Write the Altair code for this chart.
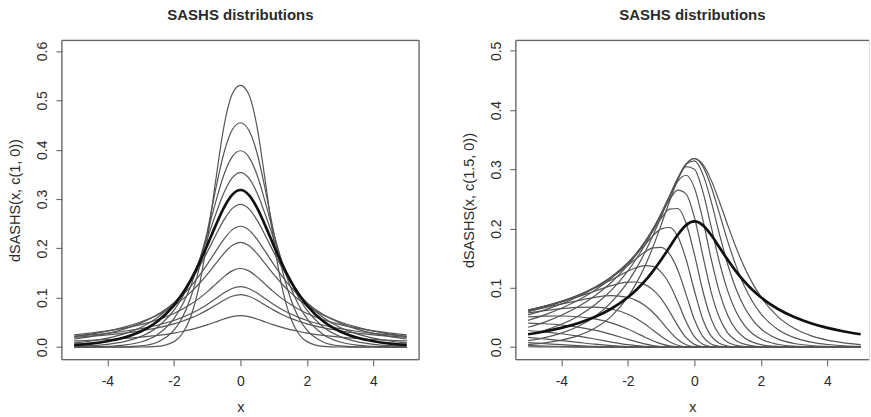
import altair as alt
import pandas as pd

# ---------------- data ----------------
XS = [-5, -4.5, -4, -3.5, -3, -2.5, -2, -1.75, -1.5, -1.25, -1, -0.75, -0.5, -0.25, 0,
      0.25, 0.5, 0.75, 1, 1.25, 1.5, 1.75, 2, 2.5, 3, 3.5, 4, 4.5, 5]

# left panel: family of symmetric curves, thick one = c(1, 0)
L_D06 = [0, 0, 0, 0, 0.0001, 0.0013, 0.0110, 0.0270, 0.0604, 0.1213, 0.2157, 0.3348, 0.4460, 0.5122, 0.5305,
         0.5122, 0.4460, 0.3348, 0.2157, 0.1213, 0.0604, 0.0270, 0.0110, 0.0013, 0.0001, 0, 0, 0, 0]
L_D07 = [0, 0, 0.0001, 0.0005, 0.0024, 0.0099, 0.0341, 0.0595, 0.0995, 0.1575, 0.2332, 0.3180, 0.3928, 0.4400, 0.4547,
         0.4400, 0.3928, 0.3180, 0.2332, 0.1575, 0.0995, 0.0595, 0.0341, 0.0099, 0.0024, 0.0005, 0.0001, 0, 0]
L_D08 = [0.0002, 0.0006, 0.0015, 0.0040, 0.0102, 0.0251, 0.0576, 0.0852, 0.1229, 0.1721, 0.2306, 0.2928, 0.3487, 0.3854, 0.3979,
         0.3854, 0.3487, 0.2928, 0.2306, 0.1721, 0.1229, 0.0852, 0.0576, 0.0251, 0.0102, 0.0040, 0.0015, 0.0006, 0.0002]
L_D09 = [0.0014, 0.0028, 0.0056, 0.0110, 0.0212, 0.0403, 0.0747, 0.1004, 0.1333, 0.1731, 0.2197, 0.2681, 0.3121, 0.3428, 0.3537,
         0.3428, 0.3121, 0.2681, 0.2197, 0.1731, 0.1333, 0.1004, 0.0747, 0.0403, 0.0212, 0.0110, 0.0056, 0.0028, 0.0014]
L_D10 = [0.0043, 0.0071, 0.0117, 0.0193, 0.0317, 0.0519, 0.0846, 0.1075, 0.1352, 0.1684, 0.2060, 0.2457, 0.2822, 0.3086, 0.3183,
         0.3086, 0.2822, 0.2457, 0.2060, 0.1684, 0.1352, 0.1075, 0.0846, 0.0519, 0.0317, 0.0193, 0.0117, 0.0071, 0.0043]
L_D11 = [0.0084, 0.0123, 0.0181, 0.0267, 0.0398, 0.0595, 0.0893, 0.1090, 0.1328, 0.1607, 0.1924, 0.2258, 0.2572, 0.2806, 0.2894,
         0.2806, 0.2572, 0.2258, 0.1924, 0.1607, 0.1328, 0.1090, 0.0893, 0.0595, 0.0398, 0.0267, 0.0181, 0.0123, 0.0084]
L_D13 = [0.0164, 0.0212, 0.0277, 0.0365, 0.0486, 0.0655, 0.0892, 0.1045, 0.1225, 0.1437, 0.1675, 0.1933, 0.2183, 0.2375, 0.2449,
         0.2375, 0.2183, 0.1933, 0.1675, 0.1437, 0.1225, 0.1045, 0.0892, 0.0655, 0.0486, 0.0365, 0.0277, 0.0212, 0.0164]
L_D15 = [0.0216, 0.0263, 0.0324, 0.0403, 0.0507, 0.0647, 0.0840, 0.0963, 0.1108, 0.1278, 0.1473, 0.1685, 0.1895, 0.2059, 0.2122,
         0.2059, 0.1895, 0.1685, 0.1473, 0.1278, 0.1108, 0.0963, 0.0840, 0.0647, 0.0507, 0.0403, 0.0324, 0.0263, 0.0216]
L_D20 = [0.0246, 0.0282, 0.0327, 0.0383, 0.0456, 0.0552, 0.0682, 0.0766, 0.0866, 0.0982, 0.1118, 0.1270, 0.1423, 0.1544, 0.1592,
         0.1544, 0.1423, 0.1270, 0.1118, 0.0982, 0.0866, 0.0766, 0.0682, 0.0552, 0.0456, 0.0383, 0.0327, 0.0282, 0.0246]
L_D26 = [0.0219, 0.0246, 0.0279, 0.0320, 0.0373, 0.0443, 0.0539, 0.0601, 0.0674, 0.0761, 0.0864, 0.0979, 0.1095, 0.1188, 0.1224,
         0.1188, 0.1095, 0.0979, 0.0864, 0.0761, 0.0674, 0.0601, 0.0539, 0.0443, 0.0373, 0.0320, 0.0279, 0.0246, 0.0219]
L_D30 = [0.0197, 0.0220, 0.0248, 0.0283, 0.0329, 0.0388, 0.0470, 0.0523, 0.0586, 0.0661, 0.0749, 0.0848, 0.0949, 0.1029, 0.1061,
         0.1029, 0.0949, 0.0848, 0.0749, 0.0661, 0.0586, 0.0523, 0.0470, 0.0388, 0.0329, 0.0283, 0.0248, 0.0220, 0.0197]
L_D50 = [0.0124, 0.0137, 0.0154, 0.0174, 0.0201, 0.0236, 0.0284, 0.0316, 0.0353, 0.0398, 0.0450, 0.0509, 0.0569, 0.0618, 0.0637,
         0.0618, 0.0569, 0.0509, 0.0450, 0.0398, 0.0353, 0.0316, 0.0284, 0.0236, 0.0201, 0.0174, 0.0154, 0.0137, 0.0124]

# right panel: thick curve c(1.5, 0) and family of skewed curves
R_THICK = [0.0216, 0.0263, 0.0324, 0.0403, 0.0507, 0.0647, 0.0840, 0.0963, 0.1108, 0.1278, 0.1473, 0.1685, 0.1895, 0.2059, 0.2122,
           0.2059, 0.1895, 0.1685, 0.1473, 0.1278, 0.1108, 0.0963, 0.0840, 0.0647, 0.0507, 0.0403, 0.0324, 0.0263, 0.0216]
R_E00 = [0.0043, 0.0071, 0.0117, 0.0193, 0.0317, 0.0519, 0.0846, 0.1075, 0.1352, 0.1684, 0.2060, 0.2457, 0.2822, 0.3086, 0.3183,
         0.3086, 0.2822, 0.2457, 0.2060, 0.1684, 0.1352, 0.1075, 0.0846, 0.0519, 0.0317, 0.0193, 0.0117, 0.0071, 0.0043]
R_E01 = [0.0109, 0.0160, 0.0236, 0.0348, 0.0513, 0.0755, 0.1102, 0.1325, 0.1584, 0.1878, 0.2199, 0.2531, 0.2846, 0.3088, 0.3181,
         0.3054, 0.2715, 0.2260, 0.1789, 0.1375, 0.1030, 0.0764, 0.0561, 0.0300, 0.0159, 0.0084, 0.0044, 0.0023, 0.0012]
R_E02 = [0.0210, 0.0284, 0.0385, 0.0522, 0.0709, 0.0956, 0.1285, 0.1486, 0.1711, 0.1964, 0.2245, 0.2546, 0.2847, 0.3085, 0.3143,
         0.2923, 0.2467, 0.1911, 0.1398, 0.0985, 0.0678, 0.0461, 0.0310, 0.0139, 0.0061, 0.0026, 0.0012, 0.0005, 0.0002]
R_E03 = [0.0334, 0.0422, 0.0537, 0.0679, 0.0862, 0.1091, 0.1383, 0.1558, 0.1758, 0.1987, 0.2251, 0.2547, 0.2843, 0.3044, 0.3002,
         0.2631, 0.2044, 0.1438, 0.0948, 0.0601, 0.0370, 0.0224, 0.0135, 0.0048, 0.0016, 0.0006, 0.0002, 0.0001, 0]
R_E04 = [0.0452, 0.0544, 0.0656, 0.0791, 0.0955, 0.1159, 0.1418, 0.1578, 0.1766, 0.1989, 0.2250, 0.2539, 0.2798, 0.2900, 0.2687,
         0.2159, 0.1497, 0.0933, 0.0539, 0.0295, 0.0159, 0.0083, 0.0042, 0.0011, 0.0003, 0.0001, 0, 0, 0]
R_E05 = [0.0544, 0.0629, 0.0730, 0.0850, 0.0996, 0.1180, 0.1424, 0.1579, 0.1766, 0.1987, 0.2237, 0.2486, 0.2648, 0.2582, 0.2189,
         0.1554, 0.0937, 0.0498, 0.0241, 0.0112, 0.0049, 0.0021, 0.0009, 0.0002, 0, 0, 0, 0, 0]
R_E06 = [0.0597, 0.0673, 0.0763, 0.0871, 0.1006, 0.1182, 0.1424, 0.1578, 0.1759, 0.1962, 0.2170, 0.2327, 0.2339, 0.2089, 0.1564,
         0.0955, 0.0481, 0.0208, 0.0081, 0.0029, 0.0010, 0.0003, 0.0001, 0, 0, 0, 0, 0, 0]
R_E07 = [0.0619, 0.0688, 0.0771, 0.0875, 0.1007, 0.1182, 0.1418, 0.1561, 0.1717, 0.1874, 0.1994, 0.2018, 0.1865, 0.1480, 0.0951,
         0.0475, 0.0189, 0.0063, 0.0018, 0.0005, 0.0001, 0, 0, 0, 0, 0, 0, 0, 0]
R_E08 = [0.0624, 0.0690, 0.0772, 0.0874, 0.1006, 0.1173, 0.1381, 0.1493, 0.1599, 0.1674, 0.1683, 0.1573, 0.1301, 0.0889, 0.0465,
         0.0182, 0.0052, 0.0012, 0.0002, 0, 0, 0, 0, 0, 0, 0, 0, 0, 0]
R_E09 = [0.0624, 0.0690, 0.0771, 0.0871, 0.0992, 0.1133, 0.1281, 0.1341, 0.1374, 0.1361, 0.1264, 0.1065, 0.0764, 0.0431, 0.0175,
         0.0048, 0.0010, 0.0001, 0, 0, 0, 0, 0, 0, 0, 0, 0, 0, 0]
R_E10 = [0.0623, 0.0687, 0.0761, 0.0849, 0.0943, 0.1036, 0.1096, 0.1098, 0.1058, 0.0969, 0.0817, 0.0603, 0.0362, 0.0158, 0.0046,
         0.0008, 0.0001, 0, 0, 0, 0, 0, 0, 0, 0, 0, 0, 0, 0]
R_E11 = [0.0613, 0.0667, 0.0726, 0.0785, 0.0838, 0.0867, 0.0838, 0.0788, 0.0705, 0.0587, 0.0435, 0.0268, 0.0127, 0.0040, 0.0007,
         0.0001, 0, 0, 0, 0, 0, 0, 0, 0, 0, 0, 0, 0, 0]
R_E12 = [0.0578, 0.0615, 0.0648, 0.0671, 0.0675, 0.0643, 0.0554, 0.0482, 0.0392, 0.0287, 0.0181, 0.0090, 0.0031, 0.0006, 0.0001,
         0, 0, 0, 0, 0, 0, 0, 0, 0, 0, 0, 0, 0, 0]
R_E13 = [0.0509, 0.0522, 0.0525, 0.0512, 0.0476, 0.0409, 0.0304, 0.0238, 0.0171, 0.0107, 0.0054, 0.0020, 0.0004, 0, 0,
         0, 0, 0, 0, 0, 0, 0, 0, 0, 0, 0, 0, 0, 0]
R_E14 = [0.0404, 0.0394, 0.0373, 0.0338, 0.0285, 0.0214, 0.0131, 0.0091, 0.0054, 0.0027, 0.0010, 0.0003, 0, 0, 0,
         0, 0, 0, 0, 0, 0, 0, 0, 0, 0, 0, 0, 0, 0]
R_E15 = [0.0280, 0.0257, 0.0225, 0.0184, 0.0137, 0.0085, 0.0041, 0.0024, 0.0012, 0.0004, 0.0001, 0, 0, 0, 0,
         0, 0, 0, 0, 0, 0, 0, 0, 0, 0, 0, 0, 0, 0]
R_E16 = [0.0163, 0.0138, 0.0109, 0.0079, 0.0049, 0.0025, 0.0009, 0.0004, 0.0001, 0, 0, 0, 0, 0, 0,
         0, 0, 0, 0, 0, 0, 0, 0, 0, 0, 0, 0, 0, 0]
R_E17 = [0.0076, 0.0058, 0.0040, 0.0024, 0.0013, 0.0005, 0.0001, 0, 0, 0, 0, 0, 0, 0, 0,
         0, 0, 0, 0, 0, 0, 0, 0, 0, 0, 0, 0, 0, 0]
R_E18 = [0.0027, 0.0018, 0.0010, 0.0005, 0.0002, 0, 0, 0, 0, 0, 0, 0, 0, 0, 0,
         0, 0, 0, 0, 0, 0, 0, 0, 0, 0, 0, 0, 0, 0]
R_E19 = [0.0006, 0.0004, 0.0002, 0.0001, 0, 0, 0, 0, 0, 0, 0, 0, 0, 0, 0,
         0, 0, 0, 0, 0, 0, 0, 0, 0, 0, 0, 0, 0, 0]

X_TICKS = [-4, -2, 0, 2, 4]
LEFT_Y_TICKS = [0.0, 0.1, 0.2, 0.3, 0.4, 0.5, 0.6]
RIGHT_Y_TICKS = [0.0, 0.1, 0.2, 0.3, 0.4, 0.5]
TITLE = "SASHS distributions"
LEFT_YLABEL = "dSASHS(x, c(1, 0))"
RIGHT_YLABEL = "dSASHS(x, c(1.5, 0))"

LEFT_THIN = {"d0.6": L_D06, "d0.7": L_D07, "d0.8": L_D08, "d0.9": L_D09, "d1.1": L_D11,
             "d1.3": L_D13, "d1.5": L_D15, "d2": L_D20, "d2.6": L_D26, "d3": L_D30, "d5": L_D50}
RIGHT_THIN = {f"e{i:02d}": v for i, v in enumerate(
    [R_E00, R_E01, R_E02, R_E03, R_E04, R_E05, R_E06, R_E07, R_E08, R_E09,
     R_E10, R_E11, R_E12, R_E13, R_E14, R_E15, R_E16, R_E17, R_E18, R_E19])}


def long_df(curves):
    rows = []
    for name, ys in curves.items():
        for x, y in zip(XS, ys):
            rows.append({"x": x, "y": y, "curve": name})
    return pd.DataFrame(rows)


FONT = "Liberation Sans"
TEXT = "#2b2b2b"
FRAME = "#666666"
H = 320


def panel(thin, thick, ydomain, yticks, ylabel, width, xmax, right_side):
    xs = alt.Scale(domain=[-5.37, xmax], nice=False, zero=False)
    ys = alt.Scale(domain=ydomain, nice=False, zero=False)
    xaxis = alt.Axis(values=X_TICKS, labelExpr="'' + datum.value", grid=False, domain=False,
                     tickSize=6, tickColor=FRAME, tickWidth=1.1, labelFont=FONT, labelFontSize=14,
                     labelColor=TEXT, labelPadding=9, title="x", titleFont=FONT, titleFontSize=14.5,
                     titleFontWeight="normal", titleColor=TEXT, titlePadding=12)
    yaxis = alt.Axis(values=yticks, labelExpr="format(datum.value, '.1f')", grid=False, domain=False,
                     tickSize=6, tickColor=FRAME, tickWidth=1.1, labelFont=FONT, labelFontSize=14,
                     labelColor=TEXT, labelAngle=-90, labelAlign="center", labelBaseline="bottom",
                     labelPadding=6, title=ylabel, titleFont=FONT, titleFontSize=14.5,
                     titleFontWeight="normal", titleColor=TEXT, titlePadding=13)
    thin_layer = alt.Chart(long_df(thin)).mark_line(
        color="#555555", strokeWidth=1.2, interpolate="monotone"
    ).encode(x=alt.X("x:Q", scale=xs, axis=xaxis), y=alt.Y("y:Q", scale=ys, axis=yaxis),
             detail="curve:N")
    thick_layer = alt.Chart(long_df({"thick": thick})).mark_line(
        color="#111111", strokeWidth=2.7, interpolate="monotone"
    ).encode(x=alt.X("x:Q", scale=xs), y=alt.Y("y:Q", scale=ys))
    one = pd.DataFrame({"k": [0]})
    frame = [
        alt.Chart(one).mark_rule(color=FRAME, strokeWidth=1.3).encode(
            x=alt.value(0), x2=alt.value(width), y=alt.value(0)),
        alt.Chart(one).mark_rule(color=FRAME, strokeWidth=1.3).encode(
            x=alt.value(0), x2=alt.value(width), y=alt.value(H)),
        alt.Chart(one).mark_rule(color=FRAME, strokeWidth=1.3).encode(
            x=alt.value(0), y=alt.value(0), y2=alt.value(H)),
    ]
    if right_side:
        frame.append(alt.Chart(one).mark_rule(color=FRAME, strokeWidth=1.3).encode(
            x=alt.value(width), y=alt.value(0), y2=alt.value(H)))
    return alt.layer(thin_layer, thick_layer, *frame).properties(
        width=width, height=H,
        title=alt.TitleParams(TITLE, font=FONT, fontSize=15, fontWeight="bold", color=TEXT,
                              anchor="middle", frame="group", offset=17))


left = panel(LEFT_THIN, L_D10, [-0.0255, 0.6216], LEFT_Y_TICKS, LEFT_YLABEL, 358, 5.37, True)
right = panel(RIGHT_THIN, R_THICK, [-0.0212, 0.5176], RIGHT_Y_TICKS, RIGHT_YLABEL, 354, 5.25, False)

chart = alt.hconcat(left, right, spacing=40).properties(
    padding={"left": 7, "top": 6, "right": 0, "bottom": 0}
).configure_view(stroke=None).configure(background="white")

chart.save("out.html", embed_options={"renderer": "svg", "actions": False})
